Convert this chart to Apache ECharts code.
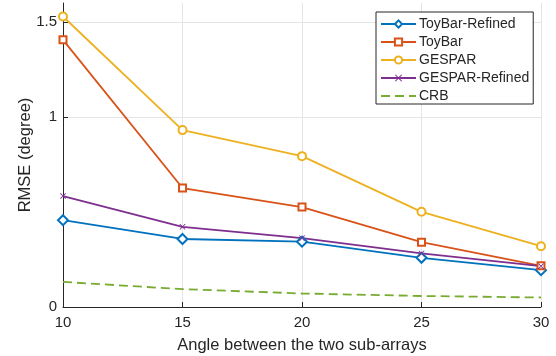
<!DOCTYPE html>
<html>
<head>
<meta charset="utf-8">
<script src="https://cdn.jsdelivr.net/npm/echarts@6/dist/echarts.min.js"></script>
<style>
  html, body { margin: 0; padding: 0; background: #fff; }
  #chart { width: 556px; height: 356px; }
</style>
</head>
<body>
<div id="chart"></div>
<script>
// angles (x axis)
const angles = [10, 15, 20, 25, 30];
const yTicks = [0, 1, 1.5];

// RMSE values
const toyBarRefined = [0.457, 0.358, 0.344, 0.259, 0.194];
const toyBar = [1.406, 0.626, 0.526, 0.341, 0.217];
const gespar = [1.529, 0.931, 0.794, 0.501, 0.320];
const gesparRefined = [0.584, 0.422, 0.362, 0.282, 0.215];
const crb = [0.132, 0.094, 0.071, 0.058, 0.050];

const font = "'Liberation Sans', Arial, sans-serif";
const ink = '#262626';
const xMark = 'path://M0,1L1,0L5,4L9,0L10,1L6,5L10,9L9,10L5,6L1,10L0,9L4,5Z';

const pairs = (vals) => angles.map((a, i) => [a, vals[i]]);

const mkSeries = (name, vals, color, symbol, size, dashed) => ({
  name: name,
  type: 'line',
  data: pairs(vals),
  symbol: symbol,
  symbolSize: size,
  color: color,
  itemStyle: { color: color },
  lineStyle: { color: color, width: 1.8, type: dashed ? [9, 5] : 'solid' },
  emphasis: { disabled: true },
  animation: false
});

const chart = echarts.init(document.getElementById('chart'));

chart.setOption({
  backgroundColor: '#fff',
  textStyle: { fontFamily: font },
  grid: { left: 63, right: 15, top: 3, bottom: 49, outerBoundsMode: 'none' },
  legend: {
    orient: 'vertical',
    left: 376,
    top: 12,
    padding: [5, 4, 1, 4],
    itemWidth: 35,
    itemHeight: 9,
    itemGap: 4,
    borderColor: ink,
    borderWidth: 1,
    borderRadius: 0,
    backgroundColor: '#fff',
    textStyle: { fontFamily: font, fontSize: 14, color: ink, padding: [0, 0, 0, -2] },
    data: ['ToyBar-Refined', 'ToyBar', 'GESPAR', 'GESPAR-Refined',
      { name: 'CRB', itemStyle: { opacity: 0 } }]
  },
  xAxis: {
    type: 'value',
    min: 10,
    max: 30,
    interval: 5,
    name: 'Angle between the two sub-arrays',
    nameLocation: 'middle',
    nameGap: 30,
    nameMoveOverlap: false,
    nameTextStyle: { fontSize: 16.5, color: ink, fontFamily: font },
    axisLine: { lineStyle: { color: ink, width: 1 } },
    axisTick: { inside: true, length: 5, lineStyle: { color: ink } },
    axisLabel: { fontSize: 15, color: ink, margin: 8, fontFamily: font },
    splitLine: { show: true, lineStyle: { color: '#e5e5e5', width: 1 } }
  },
  yAxis: {
    type: 'value',
    min: 0,
    max: 1.6,
    name: 'RMSE (degree)',
    nameLocation: 'middle',
    nameGap: 29,
    nameMoveOverlap: false,
    nameTextStyle: { fontSize: 16.5, color: ink, fontFamily: font },
    axisLine: { show: true, lineStyle: { color: ink, width: 1 } },
    axisTick: { show: true, inside: true, length: 5, customValues: yTicks, lineStyle: { color: ink } },
    axisLabel: { fontSize: 15, color: ink, margin: 6, customValues: yTicks, fontFamily: font },
    splitLine: { show: true, lineStyle: { color: '#e5e5e5', width: 1 } }
  },
  series: [
    mkSeries('ToyBar-Refined', toyBarRefined, '#0072BD', 'emptyDiamond', 10),
    mkSeries('ToyBar', toyBar, '#D95319', 'emptyRect', 7),
    mkSeries('GESPAR', gespar, '#EDB120', 'emptyCircle', 8),
    mkSeries('GESPAR-Refined', gesparRefined, '#7E2F8E', xMark, 6),
    mkSeries('CRB', crb, '#77AC30', 'none', 0, true)
  ]
});
</script>
</body>
</html>
